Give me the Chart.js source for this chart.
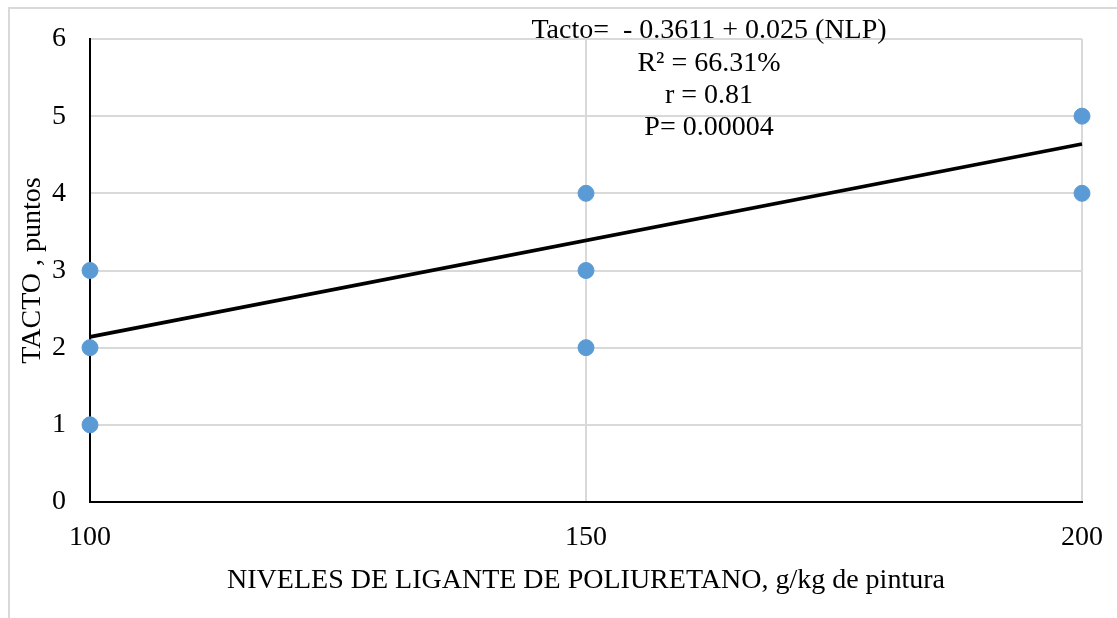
<!DOCTYPE html>
<html>
<head>
<meta charset="utf-8">
<script src="https://cdn.jsdelivr.net/npm/chart.js@4.4.1/dist/chart.umd.min.js"></script>
<style>
  html, body { margin: 0; padding: 0; background: #ffffff; }
  #wrap { width: 1117px; height: 618px; position: relative; }
</style>
</head>
<body>
<div id="wrap"><canvas id="c" width="1117" height="618"></canvas></div>
<script>
// Observed scores (x = binder level, y = touch score)
const binderLevels = [100, 100, 100, 150, 150, 150, 200, 200];
const touchScores  = [3, 2, 1, 4, 3, 2, 5, 4];

// Fitted regression: Tacto = intercept + slope * NLP
const intercept = -0.3611;
const slope = 0.025;
const fitRange = [100, 200];

const xTicks = [100, 150, 200];
const yTicks = [0, 1, 2, 3, 4, 5, 6];

const statsLines = [
  'Tacto=  - 0.3611 + 0.025 (NLP)',
  'R\u00B2 = 66.31%',
  'r = 0.81',
  'P= 0.00004'
];

const SERIF = '"Liberation Serif", "Times New Roman", serif';

const scatterData = binderLevels.map((x, i) => ({ x: x, y: touchScores[i] }));
const fitData = fitRange.map(x => ({ x: x, y: intercept + slope * x }));

// Light grey frame around the whole figure
const framePlugin = {
  id: 'frame',
  beforeDraw(chart) {
    const ctx = chart.ctx;
    ctx.save();
    ctx.strokeStyle = '#d9d9d9';
    ctx.lineWidth = 2;
    ctx.strokeRect(9, 8, chart.width + 10, chart.height + 10);
    ctx.restore();
  }
};

// Regression statistics block at the top
const statsPlugin = {
  id: 'stats',
  afterDraw(chart) {
    const ctx = chart.ctx;
    ctx.save();
    ctx.font = '28px ' + SERIF;
    ctx.fillStyle = '#000000';
    ctx.textAlign = 'center';
    ctx.textBaseline = 'alphabetic';
    const cx = 709;
    const baselines = [38, 71, 103, 135];
    statsLines.forEach((t, i) => ctx.fillText(t, cx, baselines[i]));
    ctx.restore();
  }
};

new Chart(document.getElementById('c'), {
  type: 'scatter',
  data: {
    datasets: [
      {
        label: 'Tacto',
        data: scatterData,
        backgroundColor: '#5B9BD5',
        borderColor: '#5B9BD5',
        pointRadius: 8,
        pointHoverRadius: 8,
        clip: false,
        order: 0
      },
      {
        label: 'Ajuste',
        type: 'line',
        data: fitData,
        borderColor: '#000000',
        borderWidth: 3.75,
        pointRadius: 0,
        fill: false,
        clip: false,
        order: 1
      }
    ]
  },
  options: {
    responsive: false,
    animation: false,
    devicePixelRatio: 1,
    layout: { padding: { left: 0, right: 35, top: 39, bottom: 0 } },
    plugins: {
      legend: { display: false },
      tooltip: { enabled: false },
      title: { display: false }
    },
    scales: {
      x: {
        type: 'linear',
        min: 100,
        max: 200,
        afterBuildTicks(scale) { scale.ticks = xTicks.map(v => ({ value: v })); },
        afterFit(scale) {
          scale.height = 116;
          scale.paddingLeft = 0;
          scale.paddingRight = 0;
        },
        ticks: {
          color: '#000000',
          font: { family: SERIF, size: 28 },
          padding: 19,
          maxRotation: 0
        },
        grid: { color: '#d9d9d9', lineWidth: 2, drawTicks: false },
        border: { color: '#000000', width: 2 },
        title: {
          display: true,
          text: 'NIVELES DE LIGANTE DE POLIURETANO, g/kg de pintura',
          color: '#000000',
          font: { family: SERIF, size: 28 },
          padding: { top: 0, bottom: 21 }
        }
      },
      y: {
        type: 'linear',
        min: 0,
        max: 6,
        afterBuildTicks(scale) { scale.ticks = yTicks.map(v => ({ value: v })); },
        afterFit(scale) {
          scale.width = 90;
          scale.paddingTop = 0;
          scale.paddingBottom = 0;
        },
        ticks: {
          color: '#000000',
          font: { family: SERIF, size: 28 },
          padding: 24
        },
        grid: { color: '#d9d9d9', lineWidth: 2, drawTicks: false },
        border: { color: '#000000', width: 2 },
        title: {
          display: true,
          text: 'TACTO , puntos',
          color: '#000000',
          font: { family: SERIF, size: 28 },
          padding: { top: 16, bottom: 0 }
        }
      }
    }
  },
  plugins: [framePlugin, statsPlugin]
});
</script>
</body>
</html>
